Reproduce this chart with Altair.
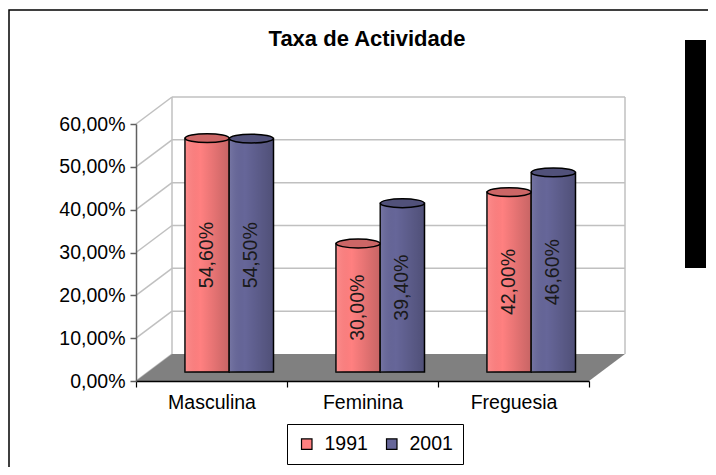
import altair as alt
import pandas as pd

# ---- data ----
categories = ["Masculina", "Feminina", "Freguesia"]
years = ["1991", "2001"]
values_1991 = [0.546, 0.300, 0.420]
values_2001 = [0.545, 0.394, 0.466]
y_ticks = [0.0, 0.1, 0.2, 0.3, 0.4, 0.5, 0.6]
series_colors = ["#FF8080", "#666699"]
title_text = "Taxa de Actividade"

# ---- layout constants (pseudo 3D) ----
FONT = "Liberation Sans, Arial, sans-serif"
FRONT_W = 453          # width of the front x axis
DEPTH_X = 36           # horizontal depth of the 3D box (px)
W = FRONT_W + DEPTH_X  # plot width
H = 285                # plot height
DEPTH_Y = 0.063        # vertical depth of the box, in axis units
BAR_BASE = 0.021       # bars stand a little behind the front edge
FMT = "replace(format(datum.value, '.2%'), '.', ',')"

bars = pd.DataFrame({
    "category": categories * 2,
    "year": [years[0]] * len(categories) + [years[1]] * len(categories),
    "value": values_1991 + values_2001,
})
ticks = pd.DataFrame({"v": y_ticks})
one = pd.DataFrame({"k": [0]})

yscale = alt.Scale(domain=[0, 0.6], range=[H, H - 257], nice=False, zero=False)
pxscale = alt.Scale(domain=[0, W], range=[0, W], nice=False, zero=False)
xscale = alt.Scale(domain=categories, range=[0, FRONT_W], paddingInner=0, paddingOuter=0)
offscale = alt.Scale(domain=years, range=[49, 137.5], paddingInner=0, paddingOuter=0)
cscale = alt.Scale(domain=years, range=series_colors)

y_axis = alt.Axis(
    values=y_ticks, labelExpr=FMT, labelFont=FONT, labelFontSize=19.5, labelColor="black",
    tickSize=6, labelPadding=5, tickColor="#606060", domainColor="#606060", domainWidth=1.5,
    tickWidth=1.5, grid=False, zindex=1,
)
x_axis = alt.Axis(
    labelAngle=0, labelFont=FONT, labelFontSize=19.5, labelColor="black", labelPadding=6,
    tickBand="extent", tickSize=6, tickColor="black", domainColor="black", domainWidth=1.5,
    tickWidth=1.2, grid=False, zindex=1,
)
legend = alt.Legend(
    title=None, orient="none", legendX=151, legendY=328, direction="horizontal",
    strokeColor="black", fillColor="white", padding=10, symbolType="square", symbolSize=110,
    symbolStrokeColor="black", symbolStrokeWidth=1.2, symbolOpacity=1,
    labelFont=FONT, labelFontSize=19.5, labelColor="black", columnPadding=14, labelOffset=8,
)

# outer frame of the chart
frame = alt.Chart(one).mark_rect(fillOpacity=0, stroke="black", strokeWidth=1.5).encode(
    x=alt.value(-127), x2=alt.value(700), y=alt.value(-86), y2=alt.value(500)
)

# chart title
title = alt.Chart(one).mark_text(
    text=title_text, font=FONT, fontSize=22, fontWeight="bold", color="black",
    align="center", baseline="alphabetic",
).encode(x=alt.value(231), y=alt.value(-50))

# left wall diagonals (carry the y axis)
diag = alt.Chart(ticks).transform_calculate(
    vb=f"datum.v + {DEPTH_Y}"
).mark_rule(color="#C0C0C0", strokeWidth=1.5).encode(
    x=alt.value(0), x2=alt.value(DEPTH_X),
    y=alt.Y("v:Q", scale=yscale, axis=y_axis, title=None),
    y2="vb:Q",
)

# back wall gridlines
grid = alt.Chart(ticks).transform_filter("datum.v > 0").transform_calculate(
    vb=f"datum.v + {DEPTH_Y}"
).mark_rule(color="#C0C0C0", strokeWidth=1.5).encode(
    x=alt.value(DEPTH_X), x2=alt.value(W),
    y=alt.Y("vb:Q", scale=yscale, title=None),
)

# back wall vertical edges
walls = alt.Chart(pd.DataFrame({"px": [DEPTH_X, W]})).transform_calculate(
    y0=f"{DEPTH_Y}", y1=f"{0.6 + DEPTH_Y}"
).mark_rule(color="#C0C0C0", strokeWidth=1.5).encode(
    x=alt.X("px:Q", scale=pxscale, axis=None),
    y=alt.Y("y0:Q", scale=yscale, title=None),
    y2="y1:Q",
)

# grey floor (parallelogram)
floor_df = pd.DataFrame({
    "px": [0, DEPTH_X, FRONT_W, W],
    "top": [0, DEPTH_Y, DEPTH_Y, DEPTH_Y],
    "bot": [0, 0, 0, DEPTH_Y],
})
floor = alt.Chart(floor_df).mark_area(color="#808080", opacity=1).encode(
    x=alt.X("px:Q", scale=pxscale, axis=None),
    y=alt.Y("top:Q", scale=yscale, title=None),
    y2="bot:Q",
)

base = alt.Chart(bars).transform_calculate(
    top=f"datum.value + {BAR_BASE}",
    bottom=f"{BAR_BASE}",
    mid=f"datum.value / 2 + {BAR_BASE}",
    label=FMT,
)

bar = base.mark_bar(stroke="black", strokeWidth=1.5).encode(
    x=alt.X("category:N", scale=xscale, axis=x_axis, title=None, sort=categories),
    xOffset=alt.XOffset("year:N", scale=offscale),
    y=alt.Y("top:Q", scale=yscale, title=None),
    y2="bottom:Q",
    color=alt.Color("year:N", scale=cscale, legend=legend),
)

shade = base.mark_bar(
    strokeWidth=0,
    fill=alt.Gradient(
        gradient="linear", x1=0, x2=1, y1=0, y2=0,
        stops=[
            alt.GradientStop(offset=0, color="rgba(255,255,255,0.10)"),
            alt.GradientStop(offset=0.35, color="rgba(0,0,0,0)"),
            alt.GradientStop(offset=1, color="rgba(0,0,0,0.22)"),
        ],
    ),
).encode(
    x=alt.X("category:N", scale=xscale, axis=None, sort=categories),
    xOffset=alt.XOffset("year:N", scale=offscale),
    y=alt.Y("top:Q", scale=yscale, title=None),
    y2="bottom:Q",
)

ELLIPSE = "M -1 0 A 1 0.2 0 1 0 1 0 A 1 0.2 0 1 0 -1 0 Z"
cap = base.mark_point(shape=ELLIPSE, size=44 * 44, filled=True, opacity=1,
                      stroke="black", strokeWidth=1.5).encode(
    x=alt.X("category:N", scale=xscale, axis=None, sort=categories),
    xOffset=alt.XOffset("year:N", scale=offscale),
    y=alt.Y("top:Q", scale=yscale, title=None),
    color=alt.Color("year:N", scale=cscale),
)
cap_shade = base.mark_point(shape=ELLIPSE, size=44 * 44, filled=True, fill="black",
                            opacity=0.2, strokeWidth=0).encode(
    x=alt.X("category:N", scale=xscale, axis=None, sort=categories),
    xOffset=alt.XOffset("year:N", scale=offscale),
    y=alt.Y("top:Q", scale=yscale, title=None),
)

labels = base.mark_text(angle=270, font=FONT, fontSize=19.5, color="#1a1a1a",
                        align="center", baseline="middle").encode(
    x=alt.X("category:N", scale=xscale, axis=None, sort=categories),
    xOffset=alt.XOffset("year:N", scale=offscale),
    y=alt.Y("mid:Q", scale=yscale, title=None),
    text="label:N",
)

# black box at the right of the reference picture
blackbox = alt.Chart(one).mark_rect(color="black").encode(
    x=alt.value(549), x2=alt.value(570), y=alt.value(-56), y2=alt.value(172)
)

chart = alt.layer(
    frame, title, diag, grid, walls, floor, bar, shade, cap, cap_shade, labels, blackbox
).resolve_scale(x="independent").properties(
    width=W, height=H,
    autosize=alt.AutoSizeParams(type="none"),
    padding={"left": 128, "top": 88, "right": 83, "bottom": 86},
    background="white",
).configure_view(stroke=None)

chart.save("out.html", embed_options={"renderer": "svg", "actions": False})
